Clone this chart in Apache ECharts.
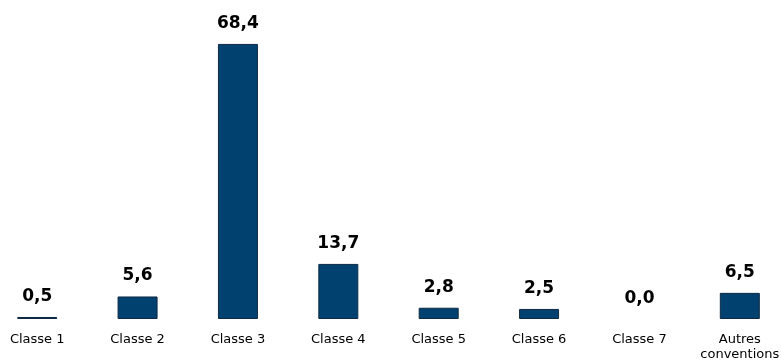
<!DOCTYPE html>
<html><head><meta charset="utf-8">
<script src="https://cdn.jsdelivr.net/npm/echarts@6/dist/echarts.min.js"></script>
<style>html,body{margin:0;padding:0;background:#fff;overflow:hidden;width:781px;height:362px}#c{width:803px;height:362px;margin-left:-13px}</style>
</head><body><div id="c"></div>
<script>
const categories = ['Classe 1','Classe 2','Classe 3','Classe 4','Classe 5','Classe 6','Classe 7','Autres\nconventions'];
const values = [0.5, 5.6, 68.4, 13.7, 2.8, 2.5, 0.0, 6.5];

const chart = echarts.init(document.getElementById('c'));
chart.setOption({
  animation: false,
  grid: { left: 0, right: 0, top: 37.5, bottom: 42 },
  xAxis: {
    type: 'category', data: categories,
    axisLine: { show: false }, axisTick: { show: false },
    axisLabel: { color: '#000', fontFamily: 'DejaVu Sans', fontSize: 13, margin: 13, interval: 0, lineHeight: 15 }
  },
  yAxis: { type: 'value', min: 0, max: 70, show: false, splitLine: { show: false } },
  series: [{
    type: 'bar', barWidth: 40,
    data: values.map(v => v === 0 ? { value: v, itemStyle: { borderWidth: 0 } } : v),
    itemStyle: { color: '#00416f', borderColor: '#0e2a42', borderWidth: 1 },
    label: {
      show: true, position: 'top', distance: 12,
      fontFamily: 'DejaVu Sans', fontWeight: 'bold', fontSize: 17, color: '#000',
      formatter: p => p.value.toFixed(1).replace('.', ',')
    }
  }]
});
</script></body></html>
